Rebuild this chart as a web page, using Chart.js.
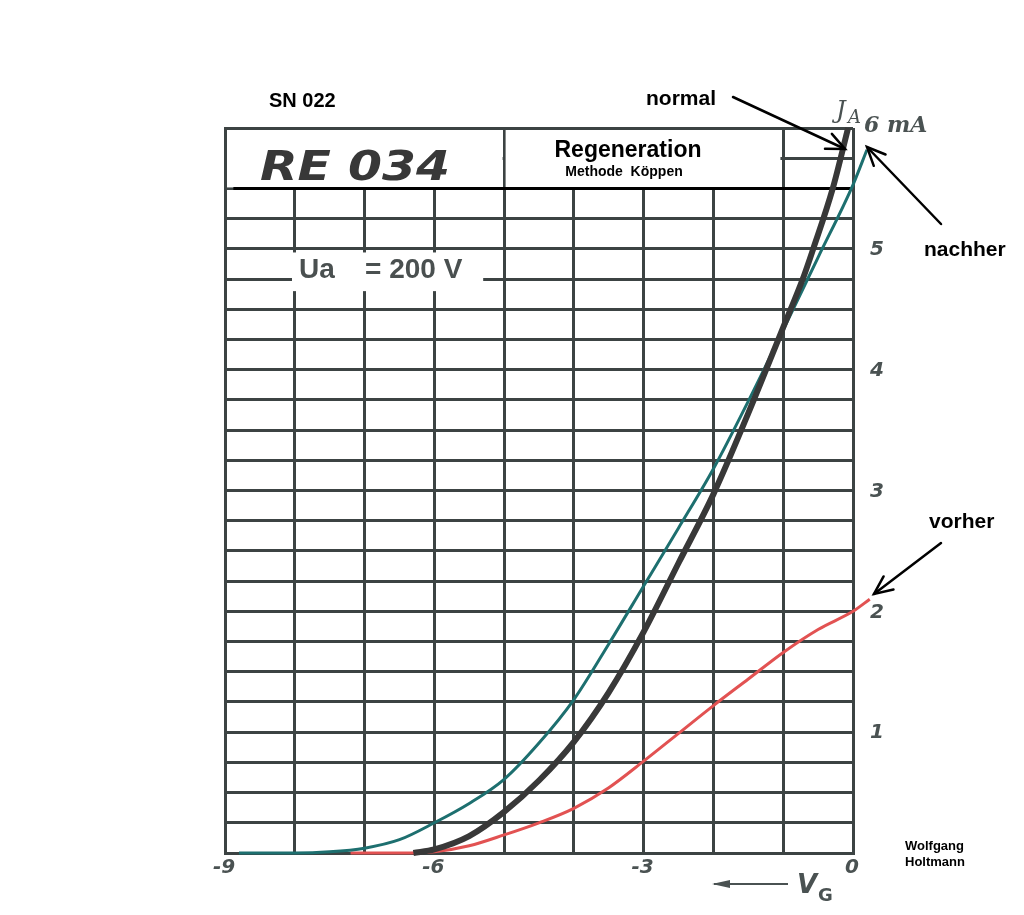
<!DOCTYPE html>
<html>
<head>
<meta charset="utf-8">
<script src="https://cdn.jsdelivr.net/npm/chart.js@4"></script>
<style>
  html,body{margin:0;padding:0;background:#fff;}
  #wrap{width:1024px;height:915px;}
</style>
</head>
<body>
<div id="wrap"><canvas id="c" width="1024" height="915"></canvas></div>
<script>
// ---- data (grid voltage Vg in V, anode current Ia in mA) ----
const normalVg  = [-6.3, -6, -5.5, -5, -4.5, -4, -3.5, -3, -2.5, -2, -1.5, -1, -0.72, -0.57, -0.29, -0.07];
const normalIa  = [0, 0.03, 0.14, 0.34, 0.6, 0.92, 1.33, 1.83, 2.4, 2.97, 3.64, 4.35, 4.75, 5.0, 5.5, 6.0];

const nachherVg = [-8.8, -8, -7.5, -7, -6.5, -6, -5.5, -5, -4.5, -4, -3.5, -3, -2.5, -2, -1.5, -1, -0.5, 0, 0.2];
const nachherIa = [0, 0, 0.01, 0.04, 0.11, 0.25, 0.41, 0.61, 0.91, 1.27, 1.73, 2.21, 2.69, 3.18, 3.74, 4.33, 4.93, 5.53, 5.82];

const vorherVg  = [-7.2, -6.5, -6, -5.5, -5, -4.5, -4, -3.5, -3, -2.5, -2, -1.5, -1, -0.5, 0, 0.24];
const vorherIa  = [0, 0, 0.01, 0.06, 0.15, 0.25, 0.37, 0.54, 0.76, 0.99, 1.22, 1.44, 1.66, 1.85, 2.0, 2.1];

const xTickValues = [-9, -6, -3, 0];
const xTickLabels = ["-9", "-6", "-3", "0"];
const yTickValues = [1, 2, 3, 4, 5];
const yTickLabels = ["1", "2", "3", "4", "5"];

const titleType   = "RE 034";
const titleMain   = "Regeneration";
const titleSub    = "Methode  Köppen";
const serialText  = "SN 022";
const uaName      = "Ua";
const uaValue     = "= 200 V";
const labelNormal = "normal";
const labelNach   = "nachher";
const labelVor    = "vorher";
const author      = ["Wolfgang", "Holtmann"];

function pts(xs, ys){ return xs.map((x,i)=>({x:x, y:ys[i]})); }

const GRID = '#3c4343';

function arrow(ctx, x1, y1, x2, y2){
  ctx.save();
  ctx.strokeStyle = '#000'; ctx.lineWidth = 2.5; ctx.lineCap='round';
  ctx.beginPath(); ctx.moveTo(x1,y1); ctx.lineTo(x2,y2); ctx.stroke();
  const a = Math.atan2(y2-y1, x2-x1), L = 20, w = 0.42;
  ctx.beginPath();
  ctx.moveTo(x2 - L*Math.cos(a-w), y2 - L*Math.sin(a-w));
  ctx.lineTo(x2, y2);
  ctx.lineTo(x2 - L*Math.cos(a+w), y2 - L*Math.sin(a+w));
  ctx.stroke();
  ctx.restore();
}

const decor = {
  id: 'decor',
  beforeDatasetsDraw(chart){
    const ctx = chart.ctx, xs = chart.scales.x, ys = chart.scales.y;
    ctx.save();
    // header white boxes (cover grid)
    ctx.fillStyle = '#fff';
    const x5 = xs.getPixelForValue(-5);
    let l = xs.getPixelForValue(-9)+2, r = x5-1.5;
    let t = ys.getPixelForValue(6)+2, b = ys.getPixelForValue(5.5)-1;
    ctx.fillRect(l, t, r-l, b-t);
    l = x5+1.5; r = xs.getPixelForValue(-1.04);
    ctx.fillRect(l, t, r-l, b-t);
    // Ua box
    l = xs.getPixelForValue(-8.04); r = xs.getPixelForValue(-5.3);
    t = ys.getPixelForValue(4.97); b = ys.getPixelForValue(4.65);
    ctx.fillRect(l, t, r-l, b-t);
    // header separator line
    ctx.strokeStyle = '#000'; ctx.lineWidth = 3;
    ctx.beginPath();
    ctx.moveTo(xs.getPixelForValue(-8.88), ys.getPixelForValue(5.5));
    ctx.lineTo(xs.getPixelForValue(-0.04), ys.getPixelForValue(5.5));
    ctx.stroke();
    // RE 034
    ctx.fillStyle = '#383838';
    ctx.font = 'italic bold 40px "DejaVu Sans"';
    ctx.textBaseline = 'alphabetic'; ctx.textAlign = 'left';
    const w = ctx.measureText(titleType).width;
    ctx.save();
    ctx.translate(260, 180);
    ctx.scale(190/w, 1);
    ctx.fillText(titleType, 0, 0);
    ctx.restore();
    // Regeneration
    ctx.fillStyle = '#000';
    ctx.textAlign = 'center';
    ctx.font = 'bold 23px "Liberation Sans"';
    ctx.fillText(titleMain, 628, 157);
    ctx.font = 'bold 14px "Liberation Sans"';
    ctx.fillText(titleSub, 624, 176);
    // Ua
    ctx.fillStyle = '#4a5050';
    ctx.textAlign = 'left';
    ctx.font = 'bold 28px "Liberation Sans"';
    ctx.fillText(uaName, 299, 278);
    ctx.fillText(uaValue, 365, 278);
    ctx.restore();
  },
  afterDraw(chart){
    const ctx = chart.ctx, xs = chart.scales.x, ys = chart.scales.y;
    ctx.save();
    // axis tick labels
    ctx.fillStyle = '#4a5252';
    ctx.font = 'italic bold 20px "DejaVu Sans"';
    ctx.textBaseline = 'middle';
    ctx.textAlign = 'left';
    yTickValues.forEach((v,i)=>{
      ctx.fillText(yTickLabels[i], xs.getPixelForValue(0)+17, ys.getPixelForValue(v)+1);
    });
    ctx.textAlign = 'center';
    xTickValues.forEach((v,i)=>{
      ctx.fillText(xTickLabels[i], xs.getPixelForValue(v)-1, ys.getPixelForValue(0)+15);
    });
    // Ia 6 mA label
    ctx.textAlign = 'left';
    ctx.font = 'italic 24px "DejaVu Serif"';
    ctx.fillText('J', 836, 112);
    ctx.font = 'italic 18px "DejaVu Serif"';
    ctx.fillText('A', 848, 118);
    ctx.font = 'italic bold 22px "DejaVu Serif"';
    ctx.fillText('6 mA', 864, 126);
    // Vg
    ctx.strokeStyle = '#4a5252'; ctx.lineWidth = 2;
    ctx.beginPath(); ctx.moveTo(714, 884); ctx.lineTo(788, 884); ctx.stroke();
    ctx.fillStyle = '#4a5252';
    ctx.beginPath(); ctx.moveTo(712, 884); ctx.lineTo(730, 880); ctx.lineTo(730, 888); ctx.closePath(); ctx.fill();
    ctx.font = 'italic bold 26px "DejaVu Sans"';
    ctx.fillText('V', 797, 886);
    ctx.font = 'bold 18px "DejaVu Sans"';
    ctx.fillText('G', 818, 896);
    // annotations
    ctx.fillStyle = '#000';
    ctx.textBaseline = 'alphabetic';
    ctx.font = 'bold 20px "Liberation Sans"';
    ctx.fillText(serialText, 269, 107);
    ctx.font = 'bold 21px "Liberation Sans"';
    ctx.fillText(labelNormal, 646, 105);
    ctx.fillText(labelNach, 924, 256);
    ctx.fillText(labelVor, 929, 528);
    ctx.font = 'bold 13px "Liberation Sans"';
    ctx.fillText(author[0], 905, 850);
    ctx.fillText(author[1], 905, 866);
    ctx.restore();
    arrow(ctx, 733, 97, 845, 149);
    arrow(ctx, 941, 224, 867, 147);
    arrow(ctx, 941, 543, 874, 594);
  }
};

new Chart(document.getElementById('c'), {
  type: 'line',
  data: {
    datasets: [
      { label: labelNormal, data: pts(normalVg, normalIa), borderColor: '#383838', borderWidth: 6,
        pointRadius: 0, cubicInterpolationMode: 'monotone', clip: false },
      { label: labelNach, data: pts(nachherVg, nachherIa), borderColor: '#1d6f6f', borderWidth: 3,
        pointRadius: 0, cubicInterpolationMode: 'monotone', clip: false },
      { label: labelVor, data: pts(vorherVg, vorherIa), borderColor: '#e25252', borderWidth: 3,
        pointRadius: 0, cubicInterpolationMode: 'monotone', clip: false }
    ]
  },
  options: {
    responsive: false,
    animation: false,
    devicePixelRatio: 1,
    layout: { padding: { left: 225, right: 171, top: 128, bottom: 62 } },
    plugins: { legend: { display: false }, tooltip: { enabled: false }, title: { display: false } },
    scales: {
      x: { type: 'linear',
           afterDataLimits: (s) => { s.min = -9; s.max = 0; },
           ticks: { display: false, stepSize: 1 },
           grid: { color: GRID, lineWidth: 3, drawTicks: false },
           border: { display: true, color: GRID, width: 3 } },
      y: { type: 'linear',
           afterDataLimits: (s) => { s.min = 0; s.max = 6; },
           ticks: { display: false, stepSize: 0.25 },
           grid: { color: GRID, lineWidth: 3, drawTicks: false },
           border: { display: true, color: GRID, width: 3 } }
    }
  },
  plugins: [decor]
});
</script>
</body>
</html>
